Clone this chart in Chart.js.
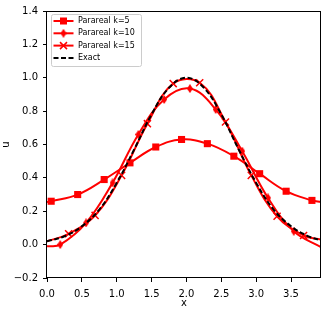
<!DOCTYPE html>
<html>
<head>
<meta charset="utf-8">
<script src="https://cdn.jsdelivr.net/npm/chart.js@4.4.0/dist/chart.umd.min.js"></script>
<style>
  html, body { margin: 0; padding: 0; background: #fff; }
  #wrap { width: 322px; height: 309px; }
</style>
</head>
<body>
<div id="wrap"><canvas id="plot"></canvas></div>
<script>
// values
var xK5 = [0, 0.06, 0.44, 0.82, 1.19, 1.56, 1.93, 2.30, 2.68, 3.05, 3.43, 3.80, 3.93];
var yK5 = [0.255, 0.26, 0.30, 0.39, 0.49, 0.585, 0.63, 0.605, 0.53, 0.425, 0.32, 0.265, 0.255];

var xK10 = [0, 0.19, 0.56, 0.94, 1.31, 1.68, 2.05, 2.42, 2.80, 3.17, 3.54, 3.93];
var yK10 = [-0.01, 0.0, 0.13, 0.37, 0.66, 0.87, 0.935, 0.81, 0.56, 0.28, 0.08, -0.015];

var xK15 = [0, 0.31, 0.69, 1.07, 1.44, 1.81, 2.19, 2.56, 2.93, 3.30, 3.68, 3.93];
var yK15 = [0.02, 0.065, 0.175, 0.415, 0.725, 0.965, 0.97, 0.735, 0.415, 0.17, 0.055, 0.03];

var xExact = [0, 0.25, 0.5, 0.75, 1.0, 1.25, 1.5, 1.75, 2.0, 2.25, 2.5, 2.75, 3.0, 3.25, 3.5, 3.75, 3.93];
var yExact = [0.02, 0.05, 0.11, 0.21, 0.37, 0.57, 0.78, 0.94, 1.0, 0.94, 0.78, 0.57, 0.37, 0.21, 0.11, 0.05, 0.025];

var labels = ["Parareal k=5", "Parareal k=10", "Parareal k=15", "Exact"];
var xTicks = [0, 0.5, 1.0, 1.5, 2.0, 2.5, 3.0, 3.5];
var yTicks = [-0.2, 0, 0.2, 0.4, 0.6, 0.8, 1.0, 1.2, 1.4];

var RED = '#ff0000';
var FONT = 'DejaVu Sans';

function pts(xs, ys) {
  var out = [];
  for (var i = 0; i < xs.length; i++) out.push({x: xs[i], y: ys[i]});
  return out;
}
// no marker on the two edge points
function radii(xs, r) {
  return xs.map(function (v, i) { return (i === 0 || i === xs.length - 1) ? 0 : r; });
}

function thinDiamond(w, h) {
  var c = document.createElement('canvas');
  c.width = w; c.height = h;
  var g = c.getContext('2d');
  g.fillStyle = RED;
  g.beginPath();
  g.moveTo(w / 2, 0); g.lineTo(w, h / 2); g.lineTo(w / 2, h); g.lineTo(0, h / 2);
  g.closePath(); g.fill();
  return c;
}
var diamond = thinDiamond(6, 9);

function fmt(v) {
  var s = Number(v).toFixed(1);
  return s.charAt(0) === '-' ? '\u2212' + s.slice(1) : s;
}

// matplotlib-like box around the plot plus legend inside
var framePlugin = {
  id: 'frame',
  afterDraw: function (chart) {
    var a = chart.chartArea, ctx = chart.ctx;
    ctx.save();
    ctx.strokeStyle = '#000';
    ctx.lineWidth = 1;
    ctx.strokeRect(Math.round(a.left) - 0.5, Math.round(a.top) + 0.5,
      Math.round(a.right - a.left), Math.round(a.bottom - a.top) - 1);

    // legend
    var bx = a.left + 4, by = a.top + 3, bw = 90, bh = 52;
    ctx.fillStyle = 'rgba(255,255,255,0.8)';
    ctx.strokeStyle = '#cccccc';
    ctx.beginPath();
    ctx.roundRect(bx + 0.5, by + 0.5, bw, bh, 2);
    ctx.fill(); ctx.stroke();

    ctx.font = '8px "' + FONT + '"';
    ctx.textBaseline = 'middle';
    for (var i = 0; i < labels.length; i++) {
      var y = by + 7 + i * 12.3;
      var x0 = bx + 2.5, x1 = bx + 22.5, xm = (x0 + x1) / 2;
      ctx.lineWidth = 2;
      if (i === 3) { ctx.strokeStyle = '#000'; ctx.setLineDash([5, 2.5]); }
      else { ctx.strokeStyle = RED; ctx.setLineDash([]); }
      ctx.beginPath(); ctx.moveTo(x0, y); ctx.lineTo(x1, y); ctx.stroke();
      ctx.setLineDash([]);
      ctx.fillStyle = RED;
      if (i === 0) ctx.fillRect(xm - 3.5, y - 3.5, 7, 7);
      if (i === 1) ctx.drawImage(diamond, xm - 3, y - 4.5);
      if (i === 2) {
        ctx.strokeStyle = RED; ctx.lineWidth = 1.5;
        ctx.beginPath();
        ctx.moveTo(xm - 3.5, y - 3.5); ctx.lineTo(xm + 3.5, y + 3.5);
        ctx.moveTo(xm - 3.5, y + 3.5); ctx.lineTo(xm + 3.5, y - 3.5);
        ctx.stroke();
      }
      ctx.fillStyle = '#000';
      ctx.fillText(labels[i], bx + 27, y);
    }
    ctx.restore();
  }
};

var ctx = document.getElementById('plot').getContext('2d');
var chart = new Chart(ctx, {
  type: 'scatter',
  data: {
    datasets: [
      {
        label: labels[0], data: pts(xK5, yK5), showLine: true, order: 3,
        borderColor: RED, backgroundColor: RED, borderWidth: 2,
        pointStyle: 'rect', pointRadius: radii(xK5, 5), pointBorderWidth: 0,
        tension: 0.4
      },
      {
        label: labels[1], data: pts(xK10, yK10), showLine: true, order: 2,
        borderColor: RED, backgroundColor: RED, borderWidth: 2,
        pointStyle: diamond, pointRadius: radii(xK10, 4),
        tension: 0.4
      },
      {
        label: labels[2], data: pts(xK15, yK15), showLine: true, order: 1,
        borderColor: RED, backgroundColor: RED, borderWidth: 2,
        pointStyle: 'crossRot', pointRadius: radii(xK15, 5), pointBorderWidth: 1.5,
        pointBorderColor: RED,
        tension: 0.4
      },
      {
        label: labels[3], data: pts(xExact, yExact), showLine: true, order: 0,
        borderColor: '#000', borderWidth: 2, borderDash: [5, 2.5],
        pointRadius: 0, tension: 0.4
      }
    ]
  },
  options: {
    responsive: true,
    maintainAspectRatio: false,
    animation: false,
    layout: { padding: { top: 6, right: 1, left: 0, bottom: 0 } },
    plugins: { legend: { display: false }, tooltip: { enabled: false } },
    scales: {
      x: {
        type: 'linear', min: 0, max: 3.93,
        afterBuildTicks: function (s) { s.ticks = xTicks.map(function (v) { return {value: v}; }); },
        afterFit: function (s) { s.height = 31; },
        border: { display: false },
        grid: { display: true, drawOnChartArea: false, drawTicks: true, tickLength: 4, color: '#000' },
        ticks: { color: '#000', padding: 6, maxRotation: 0, autoSkip: false,
          font: { family: FONT, size: 10 }, callback: fmt },
        title: { display: true, text: 'x', color: '#000', padding: { top: 0, bottom: 0 },
          font: { family: FONT, size: 10 } }
      },
      y: {
        type: 'linear', min: -0.2, max: 1.4,
        afterBuildTicks: function (s) { s.ticks = yTicks.map(function (v) { return {value: v}; }); },
        afterFit: function (s) { s.width = 47; },
        border: { display: false },
        grid: { display: true, drawOnChartArea: false, drawTicks: true, tickLength: 4, color: '#000' },
        ticks: { color: '#000', padding: 5, autoSkip: false,
          font: { family: FONT, size: 10 }, callback: fmt },
        title: { display: true, text: 'u', color: '#000', padding: { top: 0, bottom: 0 },
          font: { family: FONT, size: 10 } }
      }
    }
  },
  plugins: [framePlugin]
});
</script>
</body>
</html>
